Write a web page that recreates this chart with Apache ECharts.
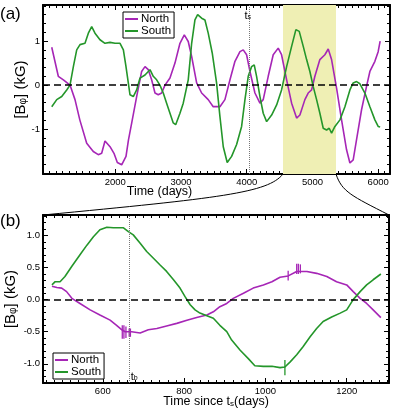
<!DOCTYPE html>
<html>
<head>
<meta charset="utf-8">
<script src="https://cdn.jsdelivr.net/npm/echarts@6/dist/echarts.min.js"></script>
<style>
html, body { margin: 0; padding: 0; background: #fff; }
#chart { width: 399px; height: 413px; }
</style>
</head>
<body>
<div id="chart"></div>
<script>
// panel (a): [day, kG]
const northTop = [[1033,0.86],[1133,0.2],[1210,0.12],[1311,0.0],[1387,-0.33],[1460,-0.79],[1565,-1.32],[1665,-1.51],[1741,-1.58],[1793,-1.55],[1843,-1.27],[1920,-1.4],[1980,-1.55],[2031,-1.76],[2097,-1.81],[2163,-1.62],[2200,-1.25],[2250,-0.86],[2325,-0.26],[2401,0.31],[2452,0.42],[2502,0.35],[2553,0.12],[2604,-0.18],[2654,-0.22],[2705,-0.18],[2756,0.0],[2832,0.16],[2908,0.5],[2984,0.95],[3050,1.14],[3110,0.99],[3162,0.65],[3238,0.05],[3314,-0.18],[3414,-0.33],[3490,-0.49],[3592,-0.49],[3668,-0.33],[3745,0.12],[3821,0.54],[3897,0.76],[3947,0.8],[3998,0.69],[4049,0.31],[4125,-0.18],[4201,-0.41],[4251,-0.33],[4327,0.2],[4403,0.69],[4479,0.84],[4530,0.69],[4607,0.12],[4683,-0.41],[4759,-0.75],[4809,-0.68],[4885,-0.33],[4935,-0.18],[4987,-0.11],[5037,0.2],[5113,0.58],[5189,0.69],[5240,0.82],[5291,0.58],[5367,-0.07],[5443,-0.79],[5519,-1.47],[5570,-1.77],[5620,-1.7],[5671,-1.24],[5747,-0.56],[5823,-0.03],[5874,0.31],[5950,0.54],[6000,0.76],[6030,1.0]];
const southTop = [[1033,-0.49],[1109,-0.33],[1185,-0.26],[1261,-0.11],[1311,0.0],[1362,0.42],[1413,0.8],[1463,0.92],[1539,0.95],[1590,1.18],[1641,1.33],[1691,1.18],[1767,1.03],[1843,0.95],[1920,0.97],[1996,0.95],[2072,0.95],[2123,0.8],[2160,0.45],[2198,0.05],[2224,-0.22],[2274,-0.26],[2325,-0.11],[2376,0.16],[2452,0.23],[2528,0.35],[2578,0.2],[2629,0.12],[2679,0.0],[2730,-0.18],[2781,-0.41],[2832,-0.64],[2882,-0.86],[2919,-0.9],[2984,-0.64],[3034,-0.41],[3110,0.12],[3162,0.95],[3212,1.48],[3253,1.6],[3314,1.52],[3364,1.48],[3414,1.18],[3475,0.73],[3541,0.05],[3592,-0.71],[3643,-1.4],[3703,-1.76],[3770,-1.62],[3846,-1.35],[3922,-0.94],[3973,-0.33],[4023,0.2],[4074,0.42],[4114,0.46],[4150,0.2],[4201,-0.26],[4251,-0.64],[4303,-0.83],[4379,-0.68],[4455,-0.45],[4530,-0.11],[4607,0.42],[4683,0.88],[4748,1.26],[4799,1.22],[4860,0.88],[4911,0.58],[4961,0.31],[5011,-0.03],[5063,-0.33],[5113,-0.64],[5164,-0.98],[5215,-1.02],[5255,-0.98],[5291,-1.09],[5342,-0.94],[5418,-0.79],[5494,-0.49],[5570,-0.11],[5620,0.05],[5671,0.08],[5722,0.03],[5798,-0.18],[5874,-0.49],[5950,-0.79],[6000,-0.94],[6030,-0.95]];

// panel (b): [days since t_s, kG]
const northBot = [[475,0.21],[487,0.19],[499,0.18],[511,0.125],[524,0.02],[544,-0.06],[569,-0.16],[593,-0.24],[618,-0.32],[634,-0.4],[647,-0.47],[655,-0.5],[671,-0.5],[692,-0.52],[712,-0.47],[733,-0.45],[757,-0.41],[782,-0.37],[807,-0.32],[831,-0.28],[856,-0.24],[872,-0.19],[888,-0.11],[905,-0.06],[921,0.02],[946,0.1],[970,0.18],[995,0.23],[1016,0.28],[1036,0.35],[1056,0.37],[1077,0.44],[1102,0.44],[1126,0.41],[1151,0.36],[1175,0.28],[1200,0.23],[1216,0.125],[1233,0.02],[1249,-0.06],[1265,-0.16],[1284,-0.28]];
const southBot = [[475,0.23],[483,0.28],[495,0.28],[507,0.36],[524,0.52],[544,0.7],[561,0.85],[577,0.98],[593,1.09],[610,1.13],[626,1.12],[651,1.12],[663,1.06],[675,1.01],[692,0.88],[708,0.75],[724,0.65],[741,0.54],[757,0.44],[774,0.31],[790,0.18],[802,0.05],[815,-0.08],[827,-0.16],[839,-0.21],[856,-0.25],[872,-0.29],[888,-0.4],[905,-0.5],[917,-0.63],[938,-0.79],[958,-0.92],[974,-1.03],[995,-1.04],[1016,-1.04],[1036,-1.06],[1048,-1.05],[1061,-0.97],[1077,-0.86],[1093,-0.73],[1110,-0.58],[1126,-0.45],[1142,-0.34],[1163,-0.27],[1184,-0.21],[1200,-0.16],[1216,0.0],[1233,0.125],[1249,0.23],[1265,0.31],[1284,0.4]];

// vertical error marks: [day, low, high]
const northErr = [[648,-0.61,-0.4],[652,-0.61,-0.4],[657,-0.6,-0.42],[665,-0.58,-0.45],[668,-0.58,-0.45],[1056,0.3,0.45],[1077,0.4,0.56],[1081,0.4,0.56],[1086,0.41,0.55]];
const southErr = [[1048,-1.18,-0.94]];

const tS = 4034;
const tB = 664;
const shade = [4552, 5358];

const topX = [900, 6180];
const topY = [-2.02, 1.82];
const botX = [453, 1304];
const botY = [-1.3, 1.32];
const topXLabels = [2000, 3000, 4000, 5000, 6000];
const topYLabels = [-1, 0, 1];
const botXLabels = [600, 800, 1000, 1200];
const botYLabels = [-1, -0.5, 0, 0.5, 1];

const cNorth = '#a626b6';
const cSouth = '#24962a';
const font = 'Liberation Sans, Arial, sans-serif';

function steps(a, b, s) {
	let out = [];
	for (let v = a; v <= b + 1e-9; v += s) out.push(Math.round(v * 1000) / 1000);
	return out;
}

// main axis + minor ticks + mirrored axis + mirrored minor ticks
function axisSet(kind, grid, range, majors, minors, fmt, extra) {
	const pos = kind === 'x' ? ['bottom', 'top'] : ['left', 'right'];
	const base = { type: 'value', gridIndex: grid, min: range[0], max: range[1], splitLine: { show: false }, offset: 0 };
	const tick = (vals, len) => ({ show: true, inside: true, length: len, customValues: vals, lineStyle: { color: '#000', width: 1 } });
	const line = { show: true, onZero: false, lineStyle: { color: '#000', width: 2 } };
	const noLine = { show: false, onZero: false };
	return [
		Object.assign({}, base, {
			position: pos[0], axisLine: line, axisTick: tick(majors, 5), nameMoveOverlap: false,
			axisLabel: { customValues: majors, formatter: fmt, color: '#000', fontSize: 9.5, fontFamily: font, margin: 3 }
		}, extra),
		Object.assign({}, base, { position: pos[0], axisLine: noLine, axisTick: tick(minors, 3), axisLabel: { show: false } }),
		Object.assign({}, base, { position: pos[1], axisLine: line, axisTick: tick(majors, 5), axisLabel: { show: false } }),
		Object.assign({}, base, { position: pos[1], axisLine: noLine, axisTick: tick(minors, 3), axisLabel: { show: false } })
	];
}

function nameStyle(size) {
	return {
		fontSize: size, color: '#000', fontFamily: font,
		rich: {
			n: { fontSize: size, fontFamily: font, color: '#000' },
			sub: { fontSize: Math.round(size * 0.65), verticalAlign: 'bottom', fontFamily: font, color: '#000' }
		}
	};
}

function curve(name, data, color, xi, yi) {
	return { name: name, type: 'line', data: data, xAxisIndex: xi, yAxisIndex: yi, symbol: 'none', showSymbol: false,
		lineStyle: { color: color, width: 1.6 }, itemStyle: { color: color }, z: 3, animation: false };
}

function errs(name, data, color, xi, yi) {
	return { name: name, type: 'custom', data: data, xAxisIndex: xi, yAxisIndex: yi, z: 4, animation: false,
		encode: { x: 0, y: [1, 2] },
		renderItem: function(params, api) {
			const a = api.coord([api.value(0), api.value(1)]);
			const b = api.coord([api.value(0), api.value(2)]);
			return { type: 'line', shape: { x1: a[0], y1: a[1], x2: b[0], y2: b[1] }, style: { stroke: color, lineWidth: 1.3 } };
		} };
}

function refLines(grid, xi, yi, xv, withShade) {
	let s = { name: 'ref' + grid, type: 'line', data: [], xAxisIndex: xi, yAxisIndex: yi, z: 2, animation: false,
		markLine: { silent: true, symbol: 'none', label: { show: false }, animation: false,
			data: [
				{ yAxis: 0, lineStyle: { type: [7, 4], color: '#000', width: 1.5 } },
				{ xAxis: xv, lineStyle: { type: [1, 1], color: '#777', width: 1 } }
			] } };
	if (withShade) {
		s.markArea = { silent: true, itemStyle: { color: '#efefb4' }, data: [[{ xAxis: shade[0] }, { xAxis: shade[1] }]] };
	}
	return s;
}

const legendBase = {
	data: ['North', 'South'], orient: 'vertical', icon: 'rect', itemWidth: 13, itemHeight: 2, itemGap: 0,
	backgroundColor: '#fff', borderColor: '#000', borderWidth: 1, borderRadius: 0, padding: [1, 3, 1, 2],
	textStyle: { fontSize: 11.5, color: '#000', fontFamily: font, lineHeight: 11, padding: [0, 0, 0, -2] }
};

const fmtInt = v => String(v);
const fmtOne = v => v.toFixed(1);
const yName = '{n|[B}{sub|φ}{n|] (kG)}';

let xAxes = [].concat(
	axisSet('x', 0, topX, topXLabels, steps(1000, 6100, 100), fmtInt,
		{ name: 'Time (days)', nameLocation: 'middle', nameGap: 11, nameTextStyle: Object.assign(nameStyle(12.5), { padding: [0, 114, 0, 0] }) }),
	axisSet('x', 1, botX, botXLabels, steps(460, 1300, 20), fmtInt,
		{ name: '{n|Time since t}{sub|s}{n|(days)}', nameLocation: 'middle', nameGap: 12, nameTextStyle: nameStyle(12.5) })
);
let yAxes = [].concat(
	axisSet('y', 0, topY, topYLabels, steps(-2, 1.8, 0.2), fmtInt,
		{ name: yName, nameLocation: 'middle', nameGap: 15, nameTextStyle: nameStyle(15) }),
	axisSet('y', 1, botY, botYLabels, steps(-1.3, 1.3, 0.1), fmtOne,
		{ name: yName, nameLocation: 'middle', nameGap: 25, nameTextStyle: nameStyle(15) })
);

let chart = echarts.init(document.getElementById('chart'));
let option = {
	animation: false,
	textStyle: { fontFamily: font },
	grid: [
		{ left: 43, top: 5, width: 347, height: 169, outerBoundsMode: 'none', containLabel: false },
		{ left: 43, top: 215, width: 346, height: 168, outerBoundsMode: 'none', containLabel: false }
	],
	xAxis: xAxes,
	yAxis: yAxes,
	legend: [
		Object.assign({}, legendBase, { left: 123, top: 12 }),
		Object.assign({}, legendBase, { left: 53, top: 353 })
	],
	series: [
		refLines(0, 0, 0, tS, true),
		curve('North', northTop, cNorth, 0, 0),
		curve('South', southTop, cSouth, 0, 0),
		refLines(1, 4, 4, tB, false),
		curve('North', northBot, cNorth, 4, 4),
		curve('South', southBot, cSouth, 4, 4),
		errs('errN', northErr, cNorth, 4, 4),
		errs('errS', southErr, cSouth, 4, 4)
	]
};
chart.setOption(option);

// connectors and labels placed from data positions
const px = (si, p) => chart.convertToPixel({ seriesIndex: si }, p);
const a0 = px(1, [shade[0], topY[0]]);
const a1 = px(1, [shade[1], topY[0]]);
const b0 = px(4, [botX[0], botY[1]]);
const b1 = px(4, [botX[1], botY[1]]);
const ts = px(1, [tS, topY[1]]);
const tb = px(4, [tB, botY[0]]);
const subRich = { t: { fontSize: 11, fontFamily: font, fill: '#000' }, s: { fontSize: 7, fontFamily: font, fill: '#000', verticalAlign: 'bottom', padding: [4, 0, 0, 0] } };

chart.setOption({
	graphic: [
		{ type: 'bezierCurve', silent: true, shape: { x1: a0[0], y1: a0[1], cpx1: a0[0] - 15, cpy1: a0[1] + 19, cpx2: a0[0] - 63, cpy2: a0[1] + 24, x2: b0[0], y2: b0[1] }, style: { stroke: '#000', lineWidth: 1, fill: null } },
		{ type: 'bezierCurve', silent: true, shape: { x1: a1[0], y1: a1[1], cpx1: a1[0] + 6, cpy1: a1[1] + 18, cpx2: a1[0] + 16, cpy2: a1[1] + 22, x2: b1[0], y2: b1[1] }, style: { stroke: '#000', lineWidth: 1, fill: null } },
		{ type: 'text', silent: true, z: 10, style: { x: ts[0] + 2, y: ts[1] + 5, text: '{t|t}{s|s}', rich: subRich, align: 'right', verticalAlign: 'top' } },
		{ type: 'text', silent: true, z: 10, style: { x: tb[0] + 2, y: tb[1] - 1, text: '{t|t}{s|b}', rich: subRich, align: 'left', verticalAlign: 'bottom' } },
		{ type: 'text', silent: true, left: 0, top: 6, style: { text: '(a)', fontSize: 17, fontFamily: font, fill: '#000' } },
		{ type: 'text', silent: true, left: 0, top: 213, style: { text: '(b)', fontSize: 17, fontFamily: font, fill: '#000' } }
	]
});
</script>
</body>
</html>
